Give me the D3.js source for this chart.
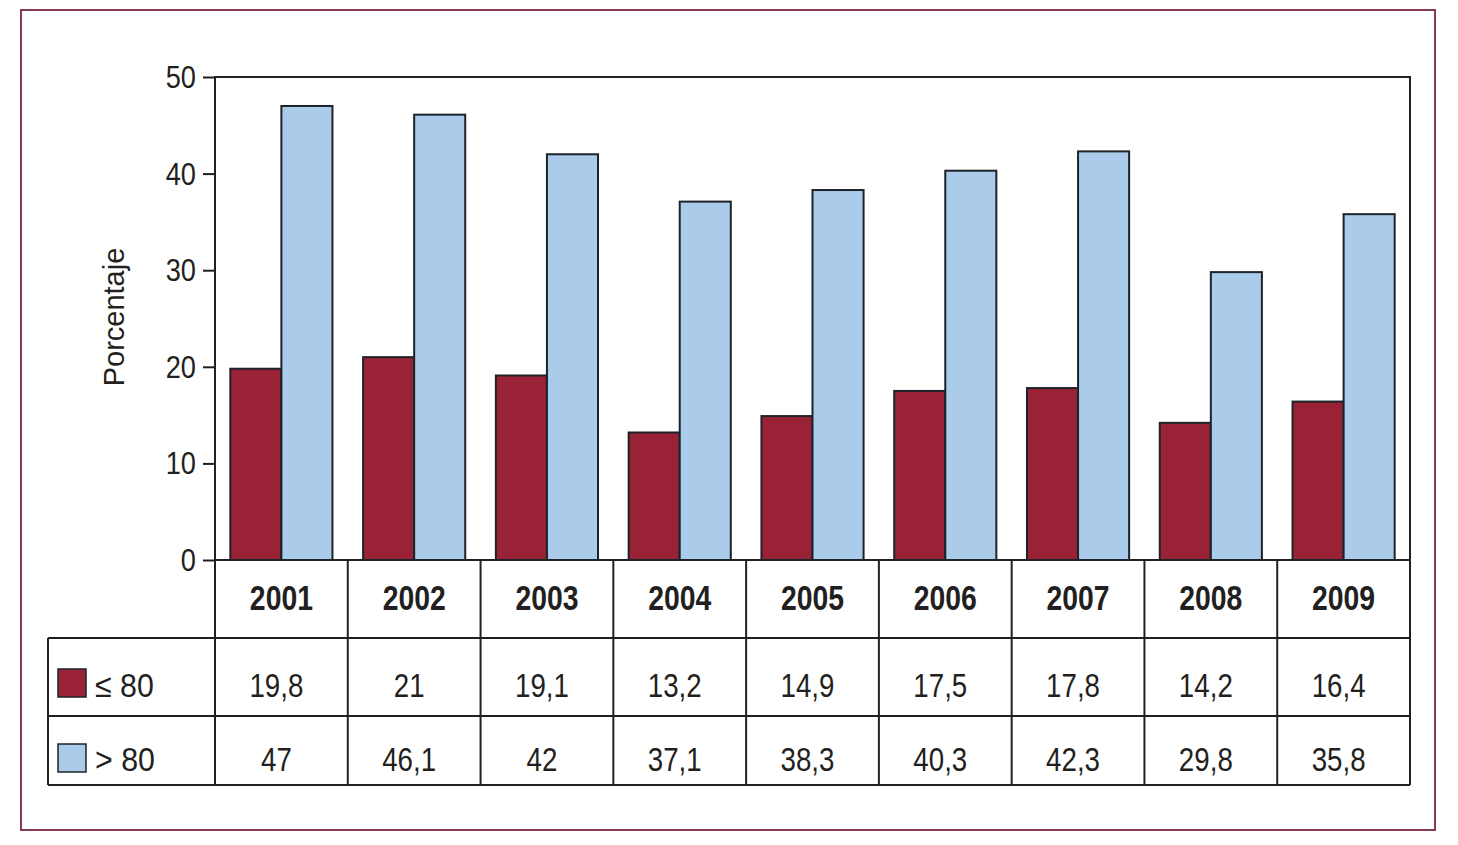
<!DOCTYPE html>
<html><head><meta charset="utf-8">
<script src="https://cdn.jsdelivr.net/npm/d3@7"></script>
<style>
body{margin:0;background:#fff;}
text{font-family:"Liberation Sans",Arial,sans-serif;fill:#231f20;}
</style></head>
<body><svg id="c" width="1458" height="845"></svg>
<script>
const years = ["2001","2002","2003","2004","2005","2006","2007","2008","2009"];
const seriesNames = ["\u2264 80", "> 80"];
const low = [19.8, 21, 19.1, 13.2, 14.9, 17.5, 17.8, 14.2, 16.4];
const high = [47, 46.1, 42, 37.1, 38.3, 40.3, 42.3, 29.8, 35.8];
const yTicks = [0, 10, 20, 30, 40, 50];
const colors = ["#9a2236", "#abcbea"];

const svg = d3.select("#c");
const L = 215, R = 1410, T = 77, B = 560;
const rowY = [560, 638, 716, 785];
const tableLeft = 48;

function ctext(x0, y0, str, size, anchor, bold, sx){
  return svg.append("text")
    .attr("transform", `translate(${x0},${y0}) scale(${sx},1)`)
    .attr("text-anchor", anchor).attr("font-size", size)
    .attr("font-weight", bold ? "bold" : "normal").text(str);
}

// outer frame
svg.append("rect").attr("x",21).attr("y",10).attr("width",1414).attr("height",820)
  .attr("fill","none").attr("stroke","#8a3a50").attr("stroke-width",2);

const x = d3.scaleBand().domain(years).range([L,R]);
const inner = d3.scaleBand().domain([0,1]).range([0, x.bandwidth()]).paddingOuter(0.3).paddingInner(0);
const y = d3.scaleLinear().domain([0,50]).range([B,T]);

// y axis
const yAxis = d3.axisLeft(y).tickValues(yTicks).tickSize(12).tickFormat("");
const ya = svg.append("g").attr("transform",`translate(${L},0)`).call(yAxis);
ya.select(".domain").remove();
ya.selectAll(".tick line").attr("stroke","#231f20").attr("stroke-width",2);
yTicks.forEach(t=>{ ctext(L-19, y(t)+11, String(t), 32, "end", false, 0.85); });

// plot frame
svg.append("rect").attr("x",L).attr("y",T).attr("width",R-L).attr("height",B-T)
  .attr("fill","none").attr("stroke","#231f20").attr("stroke-width",2);

// bars
const data = years.map((yr,i)=>({yr, vals:[low[i], high[i]]}));
const g = svg.append("g");
data.forEach(d=>{
  d.vals.forEach((v,k)=>{
    g.append("rect")
      .attr("x", x(d.yr)+inner(k))
      .attr("y", y(v))
      .attr("width", inner.bandwidth())
      .attr("height", B - y(v))
      .attr("fill", colors[k])
      .attr("stroke","#1c2329").attr("stroke-width",2);
  });
});

// y label
svg.append("text").attr("transform","translate(124,317) rotate(-90)")
  .attr("text-anchor","middle").attr("font-size",29).text("Porcentaje");

// table lines
const tl = svg.append("g").attr("stroke","#231f20").attr("stroke-width",2);
tl.append("line").attr("x1",tableLeft).attr("x2",R).attr("y1",rowY[1]).attr("y2",rowY[1]);
tl.append("line").attr("x1",tableLeft).attr("x2",R).attr("y1",rowY[2]).attr("y2",rowY[2]);
tl.append("line").attr("x1",tableLeft).attr("x2",R).attr("y1",rowY[3]).attr("y2",rowY[3]);
tl.append("line").attr("x1",tableLeft).attr("x2",tableLeft).attr("y1",rowY[1]).attr("y2",rowY[3]);
[...years.map(yy=>x(yy)), R].forEach(xx=>{
  tl.append("line").attr("x1",xx).attr("x2",xx).attr("y1",rowY[0]).attr("y2",rowY[3]);
});

// header years
years.forEach(yr=>{
  ctext(x(yr)+x.bandwidth()/2, 610, yr, 35, "middle", true, 0.81);
});

const fmt = v => String(v).replace(".", ",");
const baselines = [697, 771];
const swatchY = [669, 744];
[low, high].forEach((arr,k)=>{
  arr.forEach((v,i)=>{
    ctext(x(years[i])+x.bandwidth()/2 - 5, baselines[k], fmt(v), 33, "middle", false, 0.84);
  });
  svg.append("rect").attr("x",58).attr("y",swatchY[k]).attr("width",28).attr("height",28)
    .attr("fill",colors[k]).attr("stroke","#1c2329").attr("stroke-width",1.5);
  ctext(95, baselines[k], seriesNames[k], 33, "start", false, 0.92);
});
</script></body></html>
